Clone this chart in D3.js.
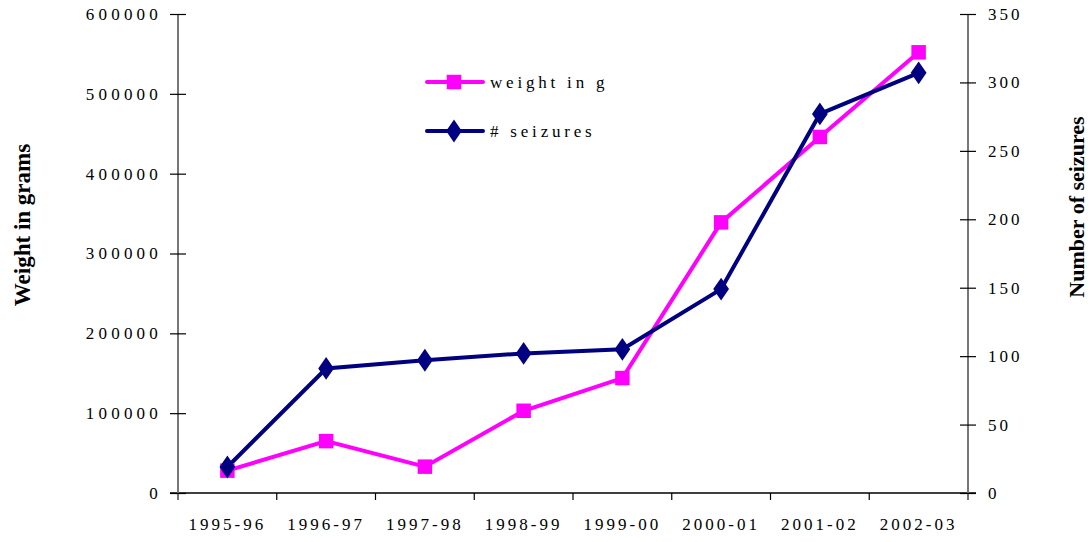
<!DOCTYPE html>
<html><head><meta charset="utf-8">
<script src="https://cdn.jsdelivr.net/npm/d3@7"></script>
<style>
body{margin:0;background:#fff;}
svg{display:block;}
svg text{font-family:'Liberation Serif','DejaVu Serif',serif;}
</style></head><body>
<svg id="c" width="1090" height="542"></svg>
<script>
const categories = ["1995-96","1996-97","1997-98","1998-99","1999-00","2000-01","2001-02","2002-03"];
const weightValues = [28000, 65000, 33000, 103000, 144000, 339000, 446000, 552000];
const seizureValues = [19, 91, 97, 102, 105, 149, 277, 307];
const leftTicks = [0,100000,200000,300000,400000,500000,600000];
const rightTicks = [0,50,100,150,200,250,300,350];

const svg = d3.select("#c");
const L = 178, R = 968, T = 14, B = 493;
const x = d3.scaleBand().domain(categories).range([L, R]).padding(0);
const yL = d3.scaleLinear().domain([0,600000]).range([B, T]);
const yR = d3.scaleLinear().domain([0,350]).range([B, T]);
const serif = "'Liberation Serif', 'DejaVu Serif', serif";
const MAG = "#ff00ff", NAVY = "#000080";

// x axis
const gx = svg.append("g").attr("transform", `translate(0,${B})`)
  .call(d3.axisBottom(x).tickSize(0).tickPadding(0)).attr("font-family", serif);
gx.select(".domain").attr("d", `M${L-8},0H${R+8}`).attr("stroke","#000").attr("stroke-width",1.3);
gx.selectAll(".tick text").attr("y", 37).attr("dy", 0)
  .style("font-family", serif).style("font-size","17px").style("letter-spacing","3px").attr("fill","#000");
// boundary ticks
const bounds = categories.map(c => x(c)).concat([R]);
gx.selectAll("line.bt").data(bounds.slice(1, -1)).enter().append("line").attr("class","bt")
  .attr("x1", d=>d).attr("x2", d=>d).attr("y1",0).attr("y2",7).attr("stroke","#000").attr("stroke-width",1.2);

// left axis
const gl = svg.append("g").attr("transform", `translate(${L},0)`)
  .call(d3.axisLeft(yL).tickValues(leftTicks).tickFormat(d3.format("d")).tickSize(8).tickPadding(12)).attr("font-family", serif);
gl.select(".domain").attr("d", `M0,${T}V${B+7}`).attr("stroke","#777").attr("stroke-width",2);
gl.selectAll(".tick line").attr("x1",-8).attr("x2",8).attr("stroke","#000").attr("stroke-width",1.2);
gl.selectAll(".tick text").style("font-family", serif).style("font-size","17px").style("letter-spacing","4.2px").attr("fill","#000").attr("dx", 4);

// right axis
const gr = svg.append("g").attr("transform", `translate(${R},0)`)
  .call(d3.axisRight(yR).tickValues(rightTicks).tickSize(8).tickPadding(12)).attr("font-family", serif);
gr.select(".domain").attr("d", `M0,${T}V${B+7}`).attr("stroke","#777").attr("stroke-width",2);
gr.selectAll(".tick line").attr("x1",-8).attr("x2",8).attr("stroke","#000").attr("stroke-width",1.2);
gr.selectAll(".tick text").style("font-family", serif).style("font-size","17px").style("letter-spacing","3px").attr("fill","#000");

// axis titles
svg.append("text").attr("transform", `translate(30,225) rotate(-90)`).attr("text-anchor","middle")
  .style("font-family", serif).style("font-weight","bold").style("font-size","23px").text("Weight in grams");
svg.append("text").attr("transform", `translate(1084,207) rotate(-90)`).attr("text-anchor","middle")
  .style("font-family", serif).style("font-weight","bold").style("font-size","22px").text("Number of seizures");

const cx = c => x(c) + x.bandwidth()/2;

// weight line
svg.append("path").datum(weightValues)
  .attr("d", d3.line().x((d,i)=>cx(categories[i])).y(d=>yL(d)))
  .attr("fill","none").attr("stroke",MAG).attr("stroke-width",4);
// seizures line
svg.append("path").datum(seizureValues)
  .attr("d", d3.line().x((d,i)=>cx(categories[i])).y(d=>yR(d)))
  .attr("fill","none").attr("stroke",NAVY).attr("stroke-width",4);

const sq = d3.symbol().type(d3.symbolSquare).size(210);
const dm = d3.symbol().type(d3.symbolDiamond).size(150);
svg.selectAll("path.wm").data(weightValues).enter().append("path").attr("class","wm")
  .attr("d", sq).attr("fill", MAG)
  .attr("transform",(d,i)=>`translate(${cx(categories[i])},${yL(d)})`);
svg.selectAll("path.sm").data(seizureValues).enter().append("path").attr("class","sm")
  .attr("d", dm).attr("fill", NAVY)
  .attr("transform",(d,i)=>`translate(${cx(categories[i])},${yR(d)}) scale(1.2,1)`);

// legend
const legend = [{name:"weight in g", color:MAG, sym:sq, sc:"scale(1,1)", y:82},
                {name:"# seizures", color:NAVY, sym:dm, sc:"scale(1.2,1)", y:131}];
const lg = svg.append("g");
legend.forEach(l => {
  lg.append("line").attr("x1",427).attr("x2",483).attr("y1",l.y).attr("y2",l.y)
    .attr("stroke",l.color).attr("stroke-width",4).attr("stroke-linecap","round");
  lg.append("path").attr("d", l.sym).attr("fill", l.color).attr("transform", `translate(454,${l.y}) ${l.sc}`);
  lg.append("text").attr("x",490).attr("y",l.y+6).style("font-family", serif).style("font-size","17px")
    .style("letter-spacing","3.8px").text(l.name);
});
</script>
</body></html>
